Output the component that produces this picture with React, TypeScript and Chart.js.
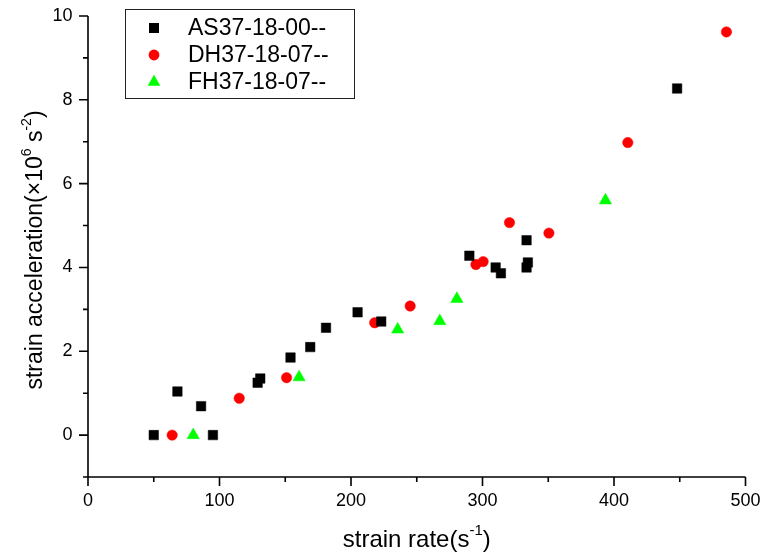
import React, { useEffect, useRef } from "react";
import { Chart, registerables } from "chart.js";

Chart.register(...registerables);

// ---- data ----
const asLabel = "AS37-18-00--";
const asX = [50, 68, 86, 95, 129, 131, 154, 169, 181, 205, 223, 290, 310, 314, 333.5, 334.5, 333.5, 448];
const asY = [0, 1.04, 0.69, 0, 1.25, 1.35, 1.85, 2.1, 2.56, 2.93, 2.71, 4.28, 4.0, 3.86, 4.65, 4.12, 4.0, 8.27];

const dhLabel = "DH37-18-07--";
const dhX = [64, 115, 151, 218, 245, 295, 300.5, 320.5, 350.5, 410.5, 485.5];
const dhY = [0, 0.88, 1.37, 2.68, 3.08, 4.07, 4.14, 5.07, 4.82, 6.98, 9.62];

const fhLabel = "FH37-18-07--";
const fhX = [80, 160.5, 235.5, 267.5, 280.5, 393.5];
const fhY = [0, 1.38, 2.52, 2.72, 3.25, 5.6];

const xMin = 0, xMax = 500, xStep = 50, xMajor = 100;
const yMin = -1, yMax = 10, yStep = 1, yMajor = 2;

const xTitleMain = "strain rate(s";
const xTitleSup = "-1";
const xTitleEnd = ")";
const yTitleParts: [string, boolean][] = [
  ["strain acceleration(\u00d710", false],
  ["6", true],
  [" s", false],
  ["-2", true],
  [")", false],
];

const FONT = "'Liberation Sans', Arial, Helvetica, sans-serif";

function toPts(xs: number[], ys: number[]) {
  return xs.map((x, i) => ({ x, y: ys[i] }));
}

function drawMarker(ctx: CanvasRenderingContext2D, style: string, x: number, y: number, color: string) {
  ctx.fillStyle = color;
  ctx.beginPath();
  if (style === "rect") {
    ctx.rect(x - 5, y - 5, 10, 10);
  } else if (style === "circle") {
    ctx.arc(x, y, 5.4, 0, Math.PI * 2);
  } else {
    const r = 7.3;
    ctx.moveTo(x, y - r);
    ctx.lineTo(x + r * Math.sin(Math.PI / 3), y + r / 2);
    ctx.lineTo(x - r * Math.sin(Math.PI / 3), y + r / 2);
    ctx.closePath();
  }
  ctx.fill();
}

function drawParts(ctx: CanvasRenderingContext2D, parts: [string, boolean][], cx: number, baseY: number, size: number) {
  const mainFont = `${size}px ${FONT}`;
  const supFont = `${Math.round(size * 0.62)}px ${FONT}`;
  let total = 0;
  const widths = parts.map(([t, sup]) => {
    ctx.font = sup ? supFont : mainFont;
    const w = ctx.measureText(t).width;
    total += w;
    return w;
  });
  let x = cx - total / 2;
  ctx.textAlign = "left";
  ctx.textBaseline = "alphabetic";
  parts.forEach(([t, sup], i) => {
    ctx.font = sup ? supFont : mainFont;
    ctx.fillText(t, x, sup ? baseY - size * 0.5 : baseY);
    x += widths[i];
  });
}

export default function App() {
  const ref = useRef<HTMLCanvasElement>(null);

  useEffect(() => {
    if (!ref.current) return;

    const decor = {
      id: "decor",
      afterDraw(chart: any) {
        const { ctx, chartArea, scales } = chart;
        const xs = scales.x;
        const ys = scales.y;
        ctx.save();
        ctx.strokeStyle = "#000";
        ctx.lineWidth = 1.6;
        ctx.lineCap = "butt";
        ctx.beginPath();
        // axis lines
        ctx.moveTo(chartArea.left, chartArea.top);
        ctx.lineTo(chartArea.left, chartArea.bottom);
        ctx.moveTo(chartArea.left, chartArea.bottom);
        ctx.lineTo(chartArea.right, chartArea.bottom);
        // ticks
        xs.ticks.forEach((t: any) => {
          const px = xs.getPixelForValue(t.value);
          const len = Math.round(t.value) % xMajor === 0 ? 9 : 5;
          ctx.moveTo(px, chartArea.bottom);
          ctx.lineTo(px, chartArea.bottom + len);
        });
        ys.ticks.forEach((t: any) => {
          const py = ys.getPixelForValue(t.value);
          const len = Math.round(t.value) % yMajor === 0 ? 9 : 5;
          ctx.moveTo(chartArea.left, py);
          ctx.lineTo(chartArea.left - len, py);
        });
        ctx.stroke();

        // axis titles
        ctx.fillStyle = "#000";
        drawParts(ctx, [[xTitleMain, false], [xTitleSup, true], [xTitleEnd, false]], (chartArea.left + chartArea.right) / 2, 547, 24);
        ctx.save();
        ctx.translate(42, 250);
        ctx.rotate(-Math.PI / 2);
        drawParts(ctx, yTitleParts, 0, 0, 23);
        ctx.restore();

        // legend
        ctx.lineWidth = 1;
        ctx.strokeStyle = "#222";
        ctx.strokeRect(125.5, 9.5, 229, 89);
        chart.data.datasets.forEach((ds: any, i: number) => {
          const ry = 28 + i * 27;
          drawMarker(ctx, ds.pointStyle, 154, ry, ds.backgroundColor);
          ctx.fillStyle = "#000";
          ctx.font = `23px ${FONT}`;
          ctx.textAlign = "left";
          ctx.textBaseline = "middle";
          ctx.fillText(ds.label, 188, ry + 1);
        });
        ctx.restore();
      },
    };

    const chart = new Chart(ref.current, {
      type: "scatter",
      data: {
        datasets: [
          {
            label: asLabel,
            data: toPts(asX, asY),
            pointStyle: "rect",
            pointRadius: 6.7,
            pointBorderWidth: 0.5,
            backgroundColor: "#000000",
            borderColor: "#000000",
          },
          {
            label: dhLabel,
            data: toPts(dhX, dhY),
            pointStyle: "circle",
            pointRadius: 5.2,
            pointBorderWidth: 0.5,
            backgroundColor: "#ff0000",
            borderColor: "#ff0000",
          },
          {
            label: fhLabel,
            data: toPts(fhX, fhY),
            pointStyle: "triangle",
            pointRadius: 7.1,
            pointBorderWidth: 0.5,
            backgroundColor: "#00ff00",
            borderColor: "#00ff00",
          },
        ],
      },
      options: {
        animation: false,
        responsive: false,
        devicePixelRatio: 1,
        layout: { padding: { top: 16, right: 16.5, left: 0, bottom: 0 } },
        plugins: {
          legend: { display: false },
          tooltip: { enabled: false },
          title: { display: false },
        },
        scales: {
          x: {
            type: "linear",
            min: xMin,
            max: xMax,
            grid: { display: false, drawTicks: false },
            border: { display: false },
            ticks: {
              stepSize: xStep,
              padding: 13,
              color: "#000",
              font: { family: FONT, size: 18 },
              maxRotation: 0,
              autoSkip: false,
              callback: (v: any) => (Math.round(Number(v)) % xMajor === 0 ? String(v) : ""),
            },
            afterFit: (s: any) => {
              s.height = 80;
              s.paddingLeft = 0;
              s.paddingRight = 0;
              s.paddingTop = 0;
              s.paddingBottom = 0;
            },
          },
          y: {
            type: "linear",
            min: yMin,
            max: yMax,
            grid: { display: false, drawTicks: false },
            border: { display: false },
            ticks: {
              stepSize: yStep,
              padding: 15.5,
              color: "#000",
              font: { family: FONT, size: 18 },
              autoSkip: false,
              callback: (v: any) => {
                const n = Math.round(Number(v));
                return n >= 0 && n % yMajor === 0 ? String(n) : "";
              },
            },
            afterFit: (s: any) => {
              s.width = 88;
              s.paddingLeft = 0;
              s.paddingRight = 0;
              s.paddingTop = 0;
              s.paddingBottom = 0;
            },
          },
        },
      },
      plugins: [decor],
    });

    return () => chart.destroy();
  }, []);

  return (
    <div style={{ position: "fixed", left: 0, top: 0, width: 762, height: 557, background: "#fff" }}>
      <canvas ref={ref} width={762} height={557} style={{ display: "block" }} />
    </div>
  );
}
